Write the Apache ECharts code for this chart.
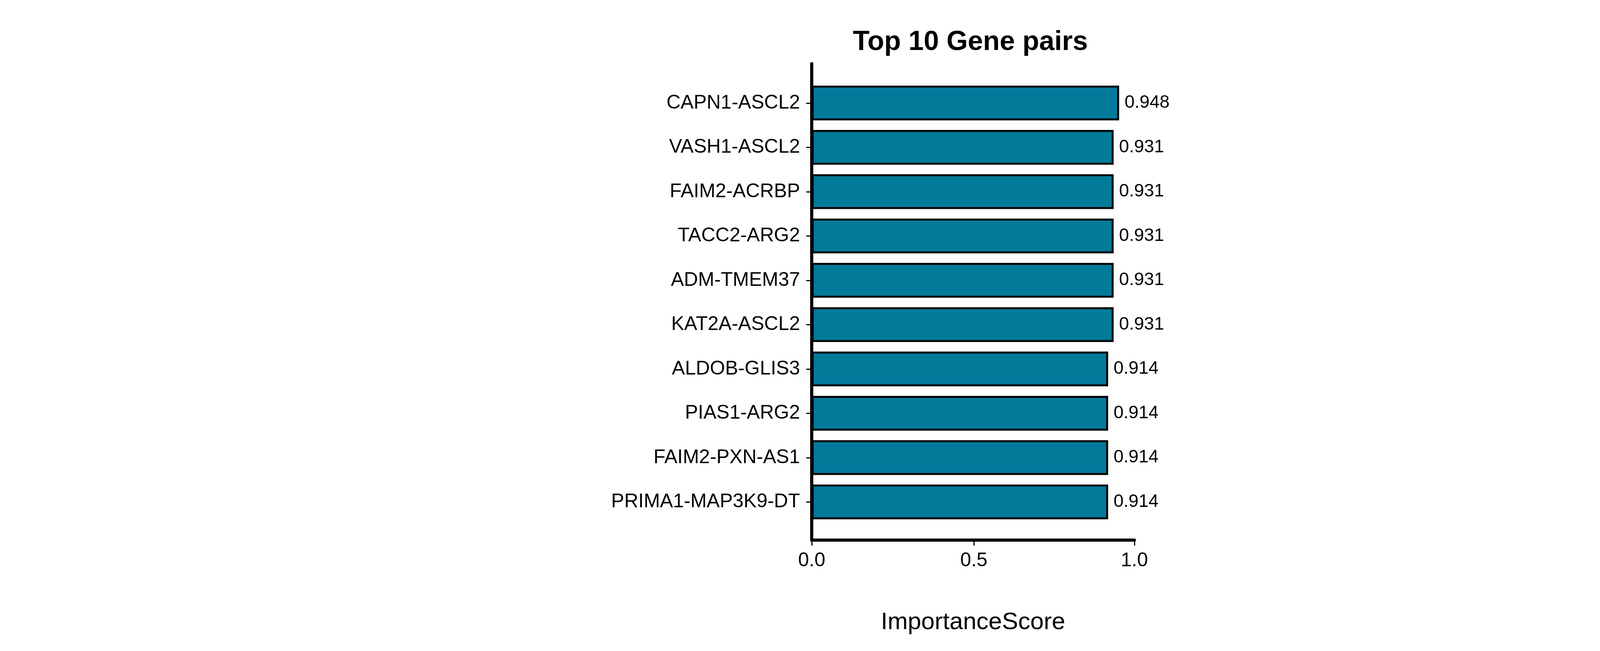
<!DOCTYPE html>
<html><head><meta charset="utf-8">
<script src="https://cdn.jsdelivr.net/npm/echarts@6/dist/echarts.min.js"></script>
<style>html,body{margin:0;padding:0;background:#fff}#c{width:4625px;height:1667px}</style>
</head><body><div id="c"></div>
<script>
const categories = ["CAPN1-ASCL2","VASH1-ASCL2","FAIM2-ACRBP","TACC2-ARG2","ADM-TMEM37","KAT2A-ASCL2","ALDOB-GLIS3","PIAS1-ARG2","FAIM2-PXN-AS1","PRIMA1-MAP3K9-DT"];
const scores = [0.948,0.931,0.931,0.931,0.931,0.931,0.914,0.914,0.914,0.914];
const xMax = 0.995;
const F = "Liberation Sans, Arial, sans-serif";
const chart = echarts.init(document.getElementById('c'));
chart.setOption({
  animation:false,
  title:{text:"Top 10 Gene pairs",left:2479,top:104,textAlign:'center',textVerticalAlign:'middle',
    textStyle:{fontFamily:F,fontWeight:'bold',fontSize:70,color:'#000'}},
  grid:[
    {left:2078,top:207,width:826,height:1135,containLabel:false},
    {left:2078,top:163,width:826,height:1220,containLabel:false}
  ],
  xAxis:[
    {type:'value',gridIndex:0,min:0,max:xMax,show:false},
    {type:'value',gridIndex:1,min:0,max:xMax,interval:0.5,
    name:"ImportanceScore",nameLocation:'middle',nameGap:180,
    nameTextStyle:{fontFamily:F,fontSize:62,color:'#000'},
    axisLine:{show:true,lineStyle:{color:'#000',width:8}},
    axisTick:{show:true,length:14,lineStyle:{color:'#000',width:3}},
    axisLabel:{fontFamily:F,fontSize:50,color:'#000',margin:28,formatter:v=>v.toFixed(1)},
    splitLine:{show:false}}
  ],
  yAxis:[
    {type:'category',gridIndex:0,inverse:true,data:categories,
    axisLine:{show:false},
    axisTick:{show:true,alignWithLabel:true,length:14,lineStyle:{color:'#000',width:3}},
    axisLabel:{fontFamily:F,fontSize:50,color:'#000',margin:30},
    splitLine:{show:false}},
    {type:'value',gridIndex:1,min:0,max:1,
    axisLine:{show:true,onZero:false,lineStyle:{color:'#000',width:8}},
    axisTick:{show:false},axisLabel:{show:false},splitLine:{show:false}}
  ],
  series:[{type:'bar',xAxisIndex:0,yAxisIndex:0,barWidth:89,
    data:scores,
    itemStyle:{color:'#027b9a',borderColor:'#000',borderWidth:5},
    label:{show:true,position:'right',distance:14,fontFamily:F,fontSize:46,color:'#000',formatter:p=>p.value.toFixed(3)}}]
});
</script></body></html>
